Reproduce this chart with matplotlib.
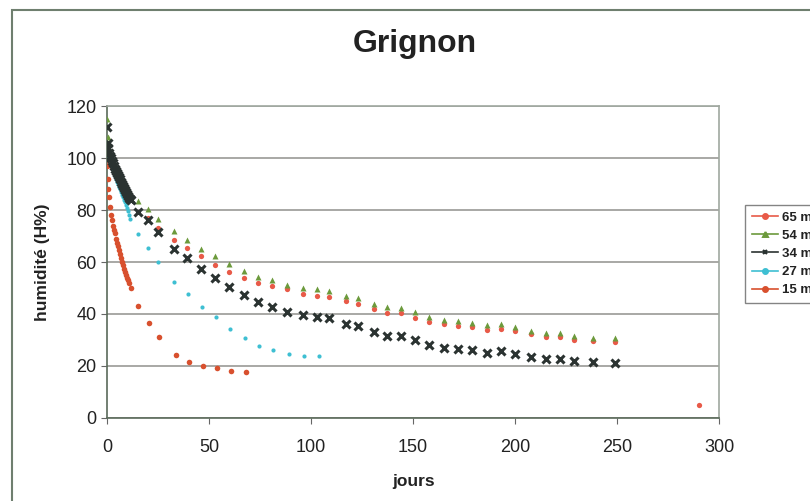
import matplotlib.pyplot as plt
from matplotlib.lines import Line2D
from matplotlib.patches import Rectangle
import numpy as np

plt.rcParams['font.family'] = ['Liberation Sans', 'DejaVu Sans']

# jours / humidite (H%) per sample depth
days_65 = [0, 0.5, 1, 2, 3, 4, 5, 6, 7, 8, 9, 10, 11, 12, 20, 25, 33, 39, 46, 53, 60, 67,
           74, 81, 88, 96, 103, 109, 117, 123, 131, 137, 144, 151, 158, 165, 172, 179,
           186, 193, 200, 208, 215, 222, 229, 238, 249, 290]
hum_65 = [103, 101, 99, 97, 96, 95, 93.5, 92, 91, 90, 88.5, 87, 86, 84.5, 77, 73, 68.5, 65.3,
          62.2, 59, 56.2, 54, 51.8, 50.7, 49.5, 47.6, 47, 46.6, 45, 44, 41.8, 40.5, 40.5,
          38.6, 37, 36, 35.4, 34.8, 34, 34.3, 33.4, 32.2, 31.3, 31.3, 30.1, 29.6, 29.2, 5]

days_54 = [0, 0.3, 1, 2, 3, 4, 5, 6, 7, 8, 9, 10, 11, 12, 15, 20, 25, 33, 39, 46, 53, 60, 67,
           74, 81, 88, 96, 103, 109, 117, 123, 131, 137, 144, 151, 158, 165, 172, 179, 186,
           193, 200, 208, 215, 222, 229, 238, 249]
hum_54 = [115, 108, 104, 101, 99, 97.5, 96, 94.5, 93, 91.5, 90, 88.5, 87, 86, 83.5, 80.3,
          76.6, 71.8, 68.6, 65.2, 62.2, 59.2, 56.6, 54.4, 53.2, 51.3, 50, 49.5, 49, 47.1,
          46.1, 43.9, 42.5, 42.4, 40.6, 38.7, 37.7, 37.3, 36.6, 35.7, 36, 35.1, 33.6, 32.8,
          32.7, 31.6, 30.9, 30.6]

days_34 = [0, 0.3, 0.6, 1, 1.5, 2, 2.5, 3, 3.5, 4, 4.5, 5, 5.5, 6, 6.5, 7, 7.5, 8, 8.5, 9,
           9.5, 10, 10.5, 11, 11.5, 12, 15, 20, 25, 33, 39, 46, 53, 60, 67, 74, 81, 88, 96,
           103, 109, 117, 123, 131, 137, 144, 151, 158, 165, 172, 179, 186, 193, 200, 208,
           215, 222, 229, 238, 249]
hum_34 = [112, 106, 104, 102, 101, 100, 99, 98, 97, 96, 95, 94.2, 93.4, 92.6, 91.8, 91,
          90.2, 89.4, 88.6, 87.8, 87, 86.2, 85.5, 84.8, 84.2, 83.7, 79.3, 76.2, 71.4, 65,
          61.6, 57.2, 54, 50.2, 47.3, 44.6, 42.8, 40.7, 39.7, 39, 38.5, 36.2, 35.2, 32.9,
          31.4, 31.4, 30, 27.9, 26.9, 26.6, 26, 25, 25.8, 24.5, 23.3, 22.8, 22.8, 21.8,
          21.5, 21.3]

days_27 = [0, 0.5, 1, 1.5, 2, 2.5, 3, 3.5, 4, 4.5, 5, 5.5, 6, 6.5, 7, 7.5, 8, 8.5, 9, 9.5,
           10, 10.5, 11, 11.5, 15, 20, 25, 33, 39.5, 46.5, 53.5, 60.5, 67.5, 74.5, 81.5, 89,
           96.5, 104]
hum_27 = [103, 101, 99.5, 98.5, 97.5, 96.5, 95.5, 94.3, 93.2, 92, 91, 90, 89, 88, 87, 86,
          85, 84, 83, 82, 80.8, 79.5, 78, 76.5, 70.6, 65.5, 60, 52.3, 47.8, 42.5, 38.8,
          34.2, 30.8, 27.6, 26.3, 24.4, 23.8, 23.8]

days_15 = [0, 0.2, 0.4, 0.7, 1, 1.5, 2, 2.5, 3, 3.5, 4, 4.5, 5, 5.5, 6, 6.5, 7, 7.5, 8, 8.5,
           9, 9.5, 10, 10.5, 11, 12, 15, 20.5, 25.7, 33.7, 40, 47, 54, 61, 68]
hum_15 = [103, 97, 92, 88, 85, 81, 78, 76, 74, 72.5, 71, 69, 67.5, 66, 64.5, 63, 61.5, 60,
          58.8, 57.5, 56.3, 55, 54, 53, 52, 50, 43, 36.6, 31, 24.2, 21.4, 19.8, 19.2, 17.9,
          17.7]

labels = ['65 mm', '54 mm', '34 mm', '27 mm', '15 mm']
colors = ['#e85a48', '#6c9a3c', '#2b3331', '#3ebfd2', '#d8502e']

fig = plt.figure(figsize=(8.1, 5.01), dpi=100)
ax = fig.add_axes([0.132, 0.166, 0.756, 0.622])

ax.plot(days_65, hum_65, 'o', color=colors[0], ms=3.8, mec='none', zorder=3)
ax.plot(days_54, hum_54, '^', color=colors[1], ms=4.2, mec='none', zorder=3)
ax.plot(days_34, hum_34, 'x', color=colors[2], ms=6, mew=2.2, zorder=4)
ax.plot(days_27, hum_27, 'o', color=colors[3], ms=3, mec='none', zorder=3)
ax.plot(days_15, hum_15, 'o', color=colors[4], ms=4, mec='none', zorder=3)

ax.set_xlim(0, 300)
ax.set_ylim(0, 120)
ax.set_xticks(np.arange(0, 301, 50))
ax.set_yticks(np.arange(0, 121, 20))
ax.grid(axis='y', color='#9a9a96', lw=1.2)
ax.set_axisbelow(True)
for s in ax.spines.values():
    s.set_color('#a0a8a0')
    s.set_linewidth(1.2)
ax.spines['left'].set_color('#5a6a5a')
ax.spines['bottom'].set_color('#5a6a5a')
ax.tick_params(axis='both', direction='out', length=4, color='#666666',
               labelsize=13, labelcolor='#222222')
ax.tick_params(axis='x', pad=11)

ax.set_xlabel('jours', fontsize=12.5, fontweight='bold', color='#222222', labelpad=13)
ax.set_ylabel('humidité (H%)', fontsize=12.5, fontweight='bold', color='#222222', labelpad=12)
fig.text(0.512, 0.912, 'Grignon', ha='center', va='center', fontsize=23,
         fontweight='bold', color='#222222')

markers = ['o', '^', 'x', 'o', 'o']
handles = [Line2D([0], [0], color=c, marker=m, ms=3.5, mew=1.5, lw=1.2)
           for c, m in zip(colors, markers)]
leg = fig.legend(handles, labels, loc='upper left', bbox_to_anchor=(0.92, 0.591),
                 borderaxespad=0, fontsize=9.5, frameon=True, fancybox=False,
                 handlelength=2.0, handletextpad=0.3, labelspacing=0.45, borderpad=0.5)
leg.get_frame().set_edgecolor('#666666')
leg.get_frame().set_linewidth(1.0)
for t in leg.get_texts():
    t.set_fontweight('bold')
    t.set_color('#222222')

# outer chart border from the scan
fig.patches.append(Rectangle((0.015, -0.1), 1.2, 1.08, transform=fig.transFigure,
                             fill=False, edgecolor='#6f7f6f', lw=1.5))

fig.savefig('out.png', dpi=100)
